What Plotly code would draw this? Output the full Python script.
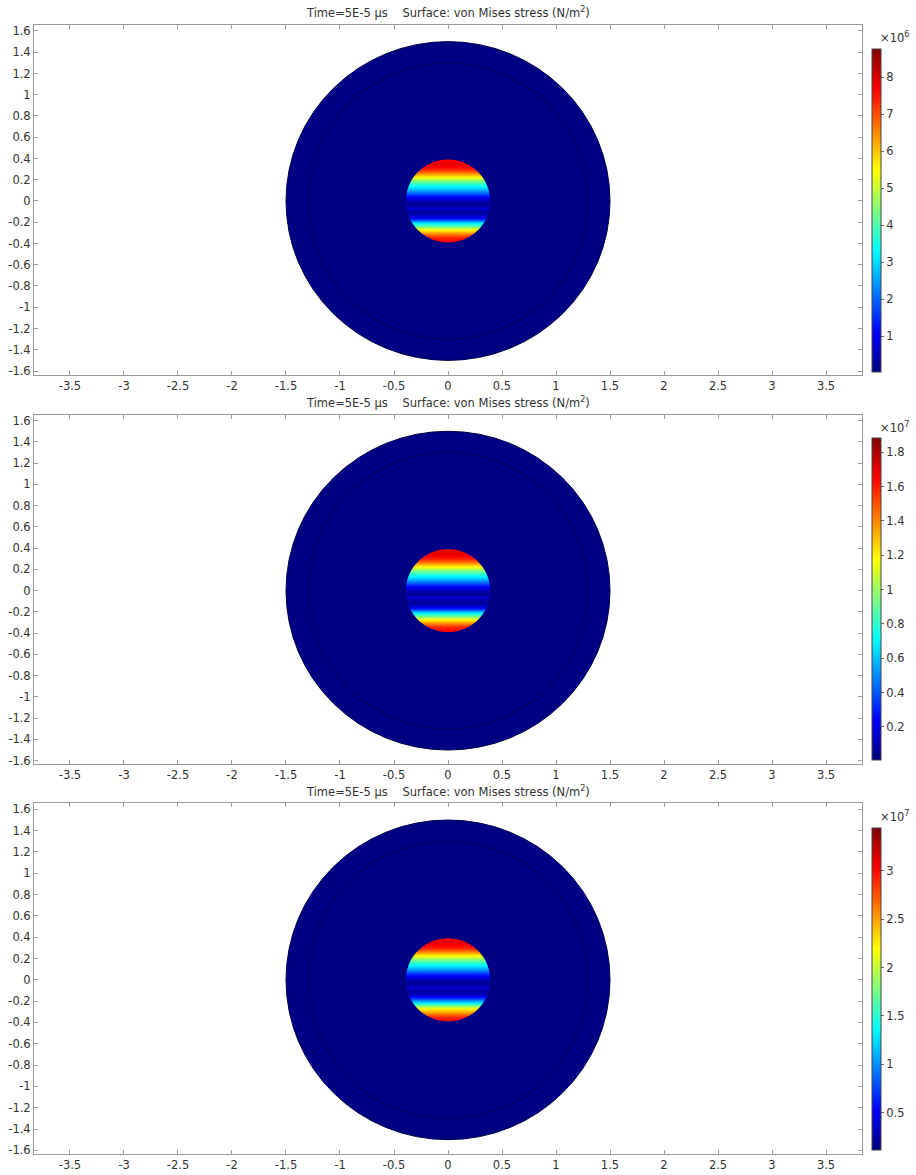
import numpy as np
import plotly.graph_objects as go

# ---------------- data ----------------
title_text = "Time=5E-5 µs\u00a0\u00a0\u00a0 Surface: von Mises stress (N/m<sup>2</sup>)"

x_tickvals = [-3.5, -3, -2.5, -2, -1.5, -1, -0.5, 0, 0.5, 1, 1.5, 2, 2.5, 3, 3.5]
x_ticktext = ["-3.5", "-3", "-2.5", "-2", "-1.5", "-1", "-0.5", "0", "0.5", "1", "1.5", "2", "2.5", "3", "3.5"]
y_tickvals = [1.6, 1.4, 1.2, 1, 0.8, 0.6, 0.4, 0.2, 0, -0.2, -0.4, -0.6, -0.8, -1, -1.2, -1.4, -1.6]
y_ticktext = ["1.6", "1.4", "1.2", "1", "0.8", "0.6", "0.4", "0.2", "0", "-0.2", "-0.4", "-0.6", "-0.8", "-1", "-1.2", "-1.4", "-1.6"]

# geometry (m): outer domain radius, inner boundary radius, loaded disc radius
outer_radius = 1.5
inner_radius = 1.3
disc_radius = 0.39

# sampled stress profile across the small disc (y positions, bottom -> top)
profile_y = [-0.396, -0.349, -0.311, -0.270, -0.239, -0.208, -0.167, -0.130, -0.098, -0.067, -0.036,
             -0.005, 0.033, 0.073, 0.114, 0.152, 0.189, 0.230, 0.270, 0.308, 0.355, 0.396]
profile_x = [-0.4, 0.4]

# panel 1 values in units of 1e6 N/m^2
stress_1 = [7.72, 7.46, 6.59, 5.54, 4.41, 3.10, 1.35, 0.48, 0.30, 0.74, 0.21,
            0.39, 0.91, 1.79, 2.83, 3.53, 4.41, 5.54, 6.59, 7.46, 7.90, 7.55]
# panel 2 values in units of 1e7 N/m^2
stress_2 = [1.657, 1.601, 1.413, 1.188, 0.944, 0.663, 0.287, 0.100, 0.062, 0.156, 0.044,
            0.081, 0.194, 0.381, 0.606, 0.756, 0.944, 1.188, 1.413, 1.601, 1.694, 1.619]
# panel 3 values in units of 1e7 N/m^2
stress_3 = [3.041, 2.941, 2.609, 2.209, 1.777, 1.278, 0.613, 0.280, 0.214, 0.380, 0.181,
            0.247, 0.447, 0.779, 1.178, 1.444, 1.777, 2.209, 2.609, 2.941, 3.107, 2.974]

color_min = [0.04, 0.006, 0.114]
color_max = [8.77, 1.882, 3.44]
cbar_tickvals = [[1, 2, 3, 4, 5, 6, 7, 8],
                 [0.2, 0.4, 0.6, 0.8, 1, 1.2, 1.4, 1.6, 1.8],
                 [0.5, 1, 1.5, 2, 2.5, 3]]
cbar_ticktext = [["1", "2", "3", "4", "5", "6", "7", "8"],
                 ["0.2", "0.4", "0.6", "0.8", "1", "1.2", "1.4", "1.6", "1.8"],
                 ["0.5", "1", "1.5", "2", "2.5", "3"]]
cbar_exponent = ["×10<sup>6</sup>", "×10<sup>7</sup>", "×10<sup>7</sup>"]
stresses = [stress_1, stress_2, stress_3]

# ---------------- styling / layout ----------------
W, H = 916, 1175
FONT = "DejaVu Sans"
FS = 11.5
TXT = "#333333"
AX = "#9a9a9a"
NAVY = "rgb(0,0,132)"

jet = [[0.0, "#00007F"], [0.125, "#0000FF"], [0.375, "#00FFFF"],
       [0.625, "#FFFF00"], [0.875, "#FF0000"], [1.0, "#7F0000"]]

panels_px = [(24, 375), (415, 766), (805, 1157)]   # plot top/bottom in pixels
cbar_px = [(48.3, 371.7), (439.3, 761), (830.7, 1152.3)]
title_px = [12, 403, 793]
expo_px = [37, 428, 818]
x_left_px, x_right_px = 34, 862

fig = go.Figure()
layout = dict(width=W, height=H, margin=dict(l=0, r=0, t=0, b=0),
              paper_bgcolor="white", plot_bgcolor="white", showlegend=False,
              font=dict(family=FONT, size=FS, color=TXT))
shapes = []
annotations = []

# circle polygon for the mask hole (counter-clockwise)
theta = np.linspace(0, 2 * np.pi, 181)
hole = " ".join(("M" if i == 0 else "L") + f"{disc_radius*np.cos(t):.4f},{disc_radius*np.sin(-t):.4f}"
                for i, t in enumerate(theta)) + " Z"
sq = 0.85
mask_path = f"M{-sq},{-sq} L{sq},{-sq} L{sq},{sq} L{-sq},{sq} Z " + hole

for i in range(3):
    n = "" if i == 0 else str(i + 1)
    xa, ya = "x" + n, "y" + n
    ca = "coloraxis" + n
    top, bot = panels_px[i]
    fig.add_trace(go.Heatmap(
        x=profile_x, y=profile_y,
        z=[[v, v] for v in stresses[i]],
        zsmooth="best", coloraxis=ca, xaxis=xa, yaxis=ya,
        hoverinfo="skip"))
    layout["xaxis" + n] = dict(
        domain=[x_left_px / W, x_right_px / W], range=[-3.833, 3.833], anchor=ya,
        showgrid=False, zeroline=False, showline=True, linecolor=AX, linewidth=1, mirror="ticks",
        ticks="inside", ticklen=4, tickcolor=AX, tickvals=x_tickvals, ticktext=x_ticktext,
        tickfont=dict(family=FONT, size=FS, color=TXT))
    layout["yaxis" + n] = dict(
        domain=[1 - bot / H, 1 - top / H], range=[-1.635, 1.657], anchor=xa,
        showgrid=False, zeroline=False, showline=True, linecolor=AX, linewidth=1, mirror="ticks",
        ticks="inside", ticklen=4, tickcolor=AX, tickvals=y_tickvals, ticktext=y_ticktext,
        tickfont=dict(family=FONT, size=FS, color=TXT))
    ct, cb = cbar_px[i]
    layout[ca] = dict(
        cmin=color_min[i], cmax=color_max[i], colorscale=jet,
        colorbar=dict(thickness=9, thicknessmode="pixels", len=cb - ct, lenmode="pixels",
                      x=872 / W, xanchor="left", xpad=0, y=1 - (ct + cb) / 2 / H, yanchor="middle",
                      ypad=0, outlinewidth=1, outlinecolor="#444", ticks="outside", ticklen=3,
                      tickcolor="#666", tickvals=cbar_tickvals[i], ticktext=cbar_ticktext[i],
                      tickfont=dict(family=FONT, size=FS, color=TXT)))
    # outer domain
    shapes.append(dict(type="circle", xref=xa, yref=ya, x0=-outer_radius, x1=outer_radius,
                       y0=-outer_radius, y1=outer_radius, fillcolor=NAVY,
                       line=dict(color="rgb(0,0,70)", width=1), layer="below"))
    # mask around the loaded disc
    shapes.append(dict(type="path", xref=xa, yref=ya, path=mask_path, fillcolor=NAVY,
                       fillrule="evenodd", line=dict(width=0), layer="above"))
    # inner boundary
    shapes.append(dict(type="circle", xref=xa, yref=ya, x0=-inner_radius, x1=inner_radius,
                       y0=-inner_radius, y1=inner_radius, fillcolor="rgba(0,0,0,0)",
                       line=dict(color="rgb(0,0,85)", width=1), layer="above"))
    annotations.append(dict(text=title_text, xref="paper", yref="paper",
                            x=(x_left_px + x_right_px) / 2 / W, y=1 - title_px[i] / H,
                            xanchor="center", yanchor="middle", showarrow=False,
                            font=dict(family=FONT, size=FS, color=TXT)))
    annotations.append(dict(text=cbar_exponent[i], xref="paper", yref="paper",
                            x=878 / W, y=1 - expo_px[i] / H, xanchor="left", yanchor="middle",
                            showarrow=False, font=dict(family=FONT, size=FS, color=TXT)))

layout["shapes"] = shapes
layout["annotations"] = annotations
fig.update_layout(**layout)
# remove the default page margin so the figure sits at the window's top-left corner
fig.write_html("out.html", config={"displayModeBar": False},
               post_script="document.body.style.margin='0px';")
